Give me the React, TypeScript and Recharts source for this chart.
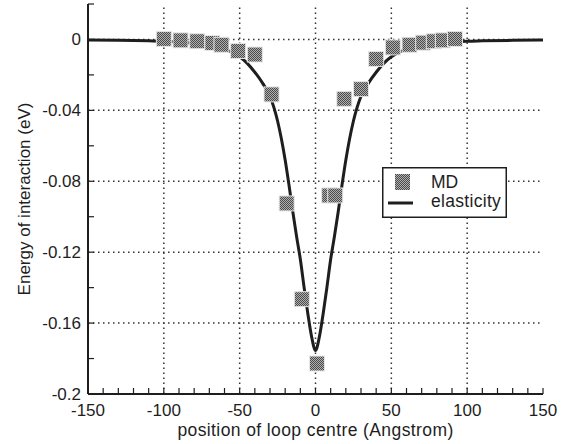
import React from 'react';
import {
  ComposedChart,
  Line,
  Scatter,
  XAxis,
  YAxis,
  ReferenceLine,
  Legend,
} from 'recharts';

// MD simulation points (position in Angstrom, energy in eV)
const mdPosition = [-100, -89, -78, -68, -62, -51, -40, -29, -19, -9, 1, 9, 13, 19, 30, 40, 51, 62, 71, 78, 84, 92];
const mdEnergy = [
  0.0003, -0.0005, -0.001, -0.002, -0.003, -0.0065, -0.0085, -0.031, -0.0925, -0.1465, -0.1828,
  -0.088, -0.088, -0.0335, -0.028, -0.011, -0.0045, -0.003, -0.0018, -0.001, -0.0005, 0.0003,
];

// elasticity curve
const elasticPosition = [
  -150, -130, -110, -100, -90, -80, -70, -60, -55, -50, -45, -40, -35, -30, -25, -20, -17.5, -15, -12.5, -10, -7.5, -5, -2.5, 0,
  2.5, 5, 7.5, 10, 12.5, 15, 17.5, 20, 25, 30, 35, 40, 45, 50, 55, 60, 70, 80, 90, 100, 110, 130, 150,
];
const elasticEnergy = [
  -0.0003, -0.0005, -0.0008, -0.001, -0.0015, -0.0022, -0.0033, -0.0055, -0.0073, -0.0098, -0.0135, -0.0185, -0.0245, -0.032,
  -0.046, -0.068, -0.082, -0.097, -0.111, -0.124, -0.14, -0.155, -0.168, -0.1755,
  -0.168, -0.155, -0.14, -0.124, -0.111, -0.097, -0.082, -0.068, -0.046, -0.032, -0.0245, -0.0185, -0.0135, -0.0098, -0.0073,
  -0.0055, -0.0033, -0.0022, -0.0015, -0.001, -0.0008, -0.0005, -0.0003,
];

const xTicks = [-150, -140, -130, -120, -110, -100, -90, -80, -70, -60, -50, -40, -30, -20, -10, 0, 10, 20, 30, 40, 50, 60, 70, 80, 90, 100, 110, 120, 130, 140, 150];
const xLabelled = [-150, -100, -50, 0, 50, 100, 150];
const yTicks = [0.02, 0, -0.02, -0.04, -0.06, -0.08, -0.1, -0.12, -0.14, -0.16, -0.18, -0.2];
const yLabelled = [0, -0.04, -0.08, -0.12, -0.16, -0.2];

const mdData = mdPosition.map((x, i) => ({ x, e: mdEnergy[i] }));
const curveData = elasticPosition.map((x, i) => ({ x, e: elasticEnergy[i] }));

const FONT = '"Liberation Sans", Arial, sans-serif';
const INK = '#1e1e1e';

const MdSquare = (props: any) => {
  const { cx, cy } = props;
  if (cx == null || cy == null) return null;
  return (
    <rect x={cx - 7.5} y={cy - 7.5} width={15} height={15} fill="url(#mdChecker)" stroke="#e6e6e6" strokeWidth={1} />
  );
};

const renderLegend = () => (
  <svg width={125} height={51} style={{ display: 'block' }}>
    <rect x={0.75} y={0.75} width={123.5} height={49.5} fill="#fff" stroke={INK} strokeWidth={1.5} />
    <rect x={13} y={7} width={15} height={16} fill="url(#mdCheckerLegend)" />
    <text x={49} y={21} fontSize={17.5} fontFamily={FONT} fill={INK}>MD</text>
    <line x1={6} x2={31} y1={36} y2={36} stroke={INK} strokeWidth={3} />
    <text x={49} y={40} fontSize={17.5} fontFamily={FONT} fill={INK} letterSpacing={0.3}>elasticity</text>
    <defs>
      <pattern id="mdCheckerLegend" width={2} height={2} patternUnits="userSpaceOnUse">
        <rect width={2} height={2} fill="#b0b0b0" />
        <rect width={1} height={1} fill="#4a4a4a" />
        <rect x={1} y={1} width={1} height={1} fill="#4a4a4a" />
      </pattern>
    </defs>
  </svg>
);

export default function App() {
  return (
    <div style={{ position: 'absolute', left: 0, top: 0, background: '#fff' }}>
      <ComposedChart width={569} height={444} margin={{ top: 4, right: 26, left: 0, bottom: 0 }}>
        <defs>
          <pattern id="mdChecker" width={2} height={2} patternUnits="userSpaceOnUse">
            <rect width={2} height={2} fill="#b0b0b0" />
            <rect width={1} height={1} fill="#4a4a4a" />
            <rect x={1} y={1} width={1} height={1} fill="#4a4a4a" />
          </pattern>
        </defs>
        <XAxis
          xAxisId="bottom"
          dataKey="x"
          type="number"
          domain={[-150, 150]}
          ticks={xTicks}
          interval={0}
          height={50}
          tickSize={-6}
          tickMargin={16}
          tickFormatter={(v: number) => (xLabelled.includes(v) ? String(v) : '')}
          tick={{ fontSize: 17, fontFamily: FONT, fill: INK }}
          axisLine={{ stroke: INK, strokeWidth: 2 }}
          tickLine={{ stroke: INK, strokeWidth: 1.2 }}
          label={{ value: 'position of loop centre (Angstrom)', position: 'insideBottom', offset: 8, fontSize: 17.5, fontFamily: FONT, fill: INK, letterSpacing: 0.4 }}
        />
        <XAxis
          xAxisId="top"
          orientation="top"
          dataKey="x"
          type="number"
          domain={[-150, 150]}
          ticks={xTicks}
          interval={0}
          height={0}
          tickSize={-6}
          tickFormatter={() => ''}
          axisLine={{ stroke: INK, strokeWidth: 2 }}
          tickLine={{ stroke: INK, strokeWidth: 1.2 }}
        />
        <YAxis
          yAxisId="left"
          type="number"
          domain={[-0.2, 0.02]}
          ticks={yTicks}
          interval={0}
          width={88}
          tickSize={-6}
          tickMargin={13}
          tickFormatter={(v: number) => (yLabelled.some((t) => Math.abs(t - v) < 1e-9) ? String(v) : '')}
          tick={{ fontSize: 17, fontFamily: FONT, fill: INK }}
          axisLine={{ stroke: INK, strokeWidth: 2 }}
          tickLine={{ stroke: INK, strokeWidth: 1.2 }}
          label={({ viewBox }: any) => (
            <text
              x={24}
              y={viewBox.y + viewBox.height / 2}
              transform={`rotate(-90 24 ${viewBox.y + viewBox.height / 2})`}
              textAnchor="middle"
              dominantBaseline="central"
              fontSize={17}
              fontFamily={FONT}
              fill={INK}
            >
              Energy of interaction (eV)
            </text>
          )}
        />
        <YAxis
          yAxisId="right"
          orientation="right"
          type="number"
          domain={[-0.2, 0.02]}
          ticks={yTicks}
          interval={0}
          width={0}
          tickSize={-6}
          tickFormatter={() => ''}
          axisLine={{ stroke: INK, strokeWidth: 2 }}
          tickLine={{ stroke: INK, strokeWidth: 1.2 }}
        />
        {xLabelled.slice(1, -1).map((v) => (
          <ReferenceLine key={`gx${v}`} xAxisId="bottom" yAxisId="left" x={v} stroke="#333" strokeWidth={1.5} strokeDasharray="1.5 3.5" />
        ))}
        {yLabelled.slice(0, -1).map((v) => (
          <ReferenceLine key={`gy${v}`} xAxisId="bottom" yAxisId="left" y={v} stroke="#333" strokeWidth={1.5} strokeDasharray="1.5 3.5" />
        ))}
        <Scatter
          name="MD"
          xAxisId="bottom"
          yAxisId="left"
          data={mdData}
          dataKey="e"
          shape={MdSquare}
          isAnimationActive={false}
        />
        <Line
          name="elasticity"
          xAxisId="bottom"
          yAxisId="left"
          data={curveData}
          dataKey="e"
          type="monotone"
          stroke={INK}
          strokeWidth={3}
          dot={false}
          activeDot={false}
          isAnimationActive={false}
        />
        <Legend
          layout="vertical"
          align="center"
          verticalAlign="middle"
          content={renderLegend}
          wrapperStyle={{ position: 'absolute', left: 382, top: 167, width: 125, height: 51 }}
        />
      </ComposedChart>
    </div>
  );
}
